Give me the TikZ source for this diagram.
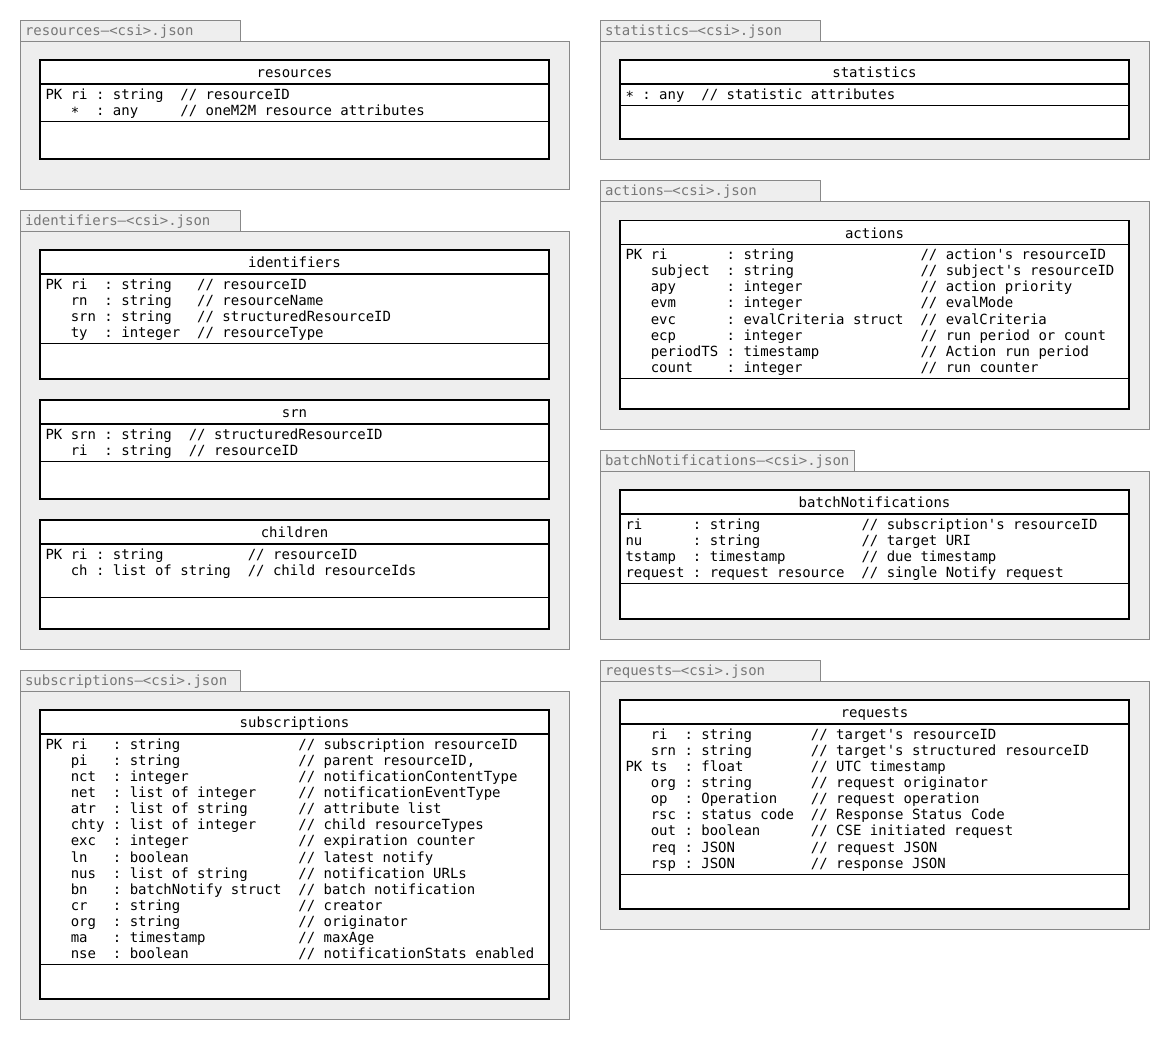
\documentclass[tikz,border=0pt]{standalone}
\usepackage{fontspec}
\setmonofont{DejaVu Sans Mono}
\definecolor{pkgbg}{HTML}{EEEEEE}
\definecolor{pkgline}{HTML}{888888}
\definecolor{pkgtext}{HTML}{777777}
\tikzset{
  pkgbox/.style={fill=pkgbg, draw=pkgline, line width=0.75pt},
  tblbox/.style={fill=white, draw=black, line width=0.8pt},
  tblline/.style={draw=black, line width=0.8pt},
  monotext/.style={font=\ttfamily\frenchspacing\fontsize{10.5}{12}\selectfont, inner sep=0pt, outer sep=0pt},
  tablabel/.style={monotext, text=pkgtext, anchor=base west},
  tbltitle/.style={monotext, text=black, anchor=base},
  rowtext/.style={monotext, text=black, anchor=base west},
}
\newcommand\umlpkg[6]{% id, x0, tabtop, tabright, framebottom, label
  \draw[pkgbox] ({#2},{#3}) rectangle ({#4},{#3+21});
  \draw[pkgbox] ({#2},{#3+21}) rectangle ({#2+549},{#5});
  \node[tablabel] (#1-tab) at ({#2+5},{#3+15.5}) {#6};
}
\newcommand\umltable[8]{% id, x0, top, header, attr, bottom, title, rows
  \draw[tblbox] ({#2+20},{#3}) rectangle ({#2+529},{#6});
  \draw[tblline] ({#2+20},{#4}) -- ({#2+529},{#4});
  \draw[tblline] ({#2+20},{#5}) -- ({#2+529},{#5});
  \node[tbltitle] (#1-title) at ({#2+274.5},{#3+17.8}) {#7};
  \foreach \rr [count=\ii from 0] in {#8}
    \node[rowtext] (#1-row\ii) at ({#2+25.5},{#4+15+\ii*16.15}) {\rr};
}
\newcommand\starmark{\raisebox{-0.2em}{*}}
\begin{document}
\begin{tikzpicture}[x=0.75pt,y=-0.75pt]
\fill[white] (0,0) rectangle (1170,1040);
\useasboundingbox (0,0) rectangle (1170,1040);

% ---------------- left column ----------------
\umlpkg{presources}{20}{20}{240}{189}{resources–<csi>.json}
\umltable{resources}{20}{60}{84}{121.5}{159}{resources}{%
  {PK~ri~:~string~~//~resourceID},
  {~~~\starmark~~:~any~~~~~//~oneM2M~resource~attributes}}

\umlpkg{pidentifiers}{20}{210}{240}{649}{identifiers–<csi>.json}
\umltable{identifiers}{20}{250}{274}{343.5}{379}{identifiers}{%
  {PK~ri~~:~string~~~//~resourceID},
  {~~~rn~~:~string~~~//~resourceName},
  {~~~srn~:~string~~~//~structuredResourceID},
  {~~~ty~~:~integer~~//~resourceType}}
\umltable{srn}{20}{400}{424}{461.5}{499}{srn}{%
  {PK~srn~:~string~~//~structuredResourceID},
  {~~~ri~~:~string~~//~resourceID}}
\umltable{children}{20}{520}{544}{597.5}{629}{children}{%
  {PK~ri~:~string~~~~~~~~~~//~resourceID},
  {~~~ch~:~list~of~string~~//~child~resourceIds}}

\umlpkg{psubscriptions}{20}{670}{240}{1019}{subscriptions–<csi>.json}
\umltable{subscriptions}{20}{710}{734}{964.5}{999}{subscriptions}{%
  {PK~ri~~~:~string~~~~~~~~~~~~~~//~subscription~resourceID},
  {~~~pi~~~:~string~~~~~~~~~~~~~~//~parent~resourceID,},
  {~~~nct~~:~integer~~~~~~~~~~~~~//~notificationContentType},
  {~~~net~~:~list~of~integer~~~~~//~notificationEventType},
  {~~~atr~~:~list~of~string~~~~~~//~attribute~list},
  {~~~chty~:~list~of~integer~~~~~//~child~resourceTypes},
  {~~~exc~~:~integer~~~~~~~~~~~~~//~expiration~counter},
  {~~~ln~~~:~boolean~~~~~~~~~~~~~//~latest~notify},
  {~~~nus~~:~list~of~string~~~~~~//~notification~URLs},
  {~~~bn~~~:~batchNotify~struct~~//~batch~notification},
  {~~~cr~~~:~string~~~~~~~~~~~~~~//~creator},
  {~~~org~~:~string~~~~~~~~~~~~~~//~originator},
  {~~~ma~~~:~timestamp~~~~~~~~~~~//~maxAge},
  {~~~nse~~:~boolean~~~~~~~~~~~~~//~notificationStats~enabled}}

% ---------------- right column ----------------
\umlpkg{pstatistics}{600}{20}{820}{159}{statistics–<csi>.json}
\umltable{statistics}{600}{60}{84}{105.5}{139}{statistics}{%
  {\starmark~:~any~~//~statistic~attributes}}

\umlpkg{pactions}{600}{180}{820}{429}{actions–<csi>.json}
\umltable{actions}{600}{220.5}{244.5}{378.5}{409}{actions}{%
  {PK~ri~~~~~~~:~string~~~~~~~~~~~~~~~//~action's~resourceID},
  {~~~subject~~:~string~~~~~~~~~~~~~~~//~subject's~resourceID},
  {~~~apy~~~~~~:~integer~~~~~~~~~~~~~~//~action~priority},
  {~~~evm~~~~~~:~integer~~~~~~~~~~~~~~//~evalMode},
  {~~~evc~~~~~~:~evalCriteria~struct~~//~evalCriteria},
  {~~~ecp~~~~~~:~integer~~~~~~~~~~~~~~//~run~period~or~count},
  {~~~periodTS~:~timestamp~~~~~~~~~~~~//~Action~run~period},
  {~~~count~~~~:~integer~~~~~~~~~~~~~~//~run~counter}}

\umlpkg{pbatch}{600}{450}{854}{639}{batchNotifications–<csi>.json}
\umltable{batchNotifications}{600}{490}{514}{583.5}{619}{batchNotifications}{%
  {ri~~~~~~:~string~~~~~~~~~~~~//~subscription's~resourceID},
  {nu~~~~~~:~string~~~~~~~~~~~~//~target~URI},
  {tstamp~~:~timestamp~~~~~~~~~//~due~timestamp},
  {request~:~request~resource~~//~single~Notify~request}}

\umlpkg{prequests}{600}{660}{820}{929}{requests–<csi>.json}
\umltable{requests}{600}{700}{724}{874.5}{909}{requests}{%
  {~~~ri~~:~string~~~~~~~//~target's~resourceID},
  {~~~srn~:~string~~~~~~~//~target's~structured~resourceID},
  {PK~ts~~:~float~~~~~~~~//~UTC~timestamp},
  {~~~org~:~string~~~~~~~//~request~originator},
  {~~~op~~:~Operation~~~~//~request~operation},
  {~~~rsc~:~status~code~~//~Response~Status~Code},
  {~~~out~:~boolean~~~~~~//~CSE~initiated~request},
  {~~~req~:~JSON~~~~~~~~~//~request~JSON},
  {~~~rsp~:~JSON~~~~~~~~~//~response~JSON}}
\end{tikzpicture}
\end{document}
